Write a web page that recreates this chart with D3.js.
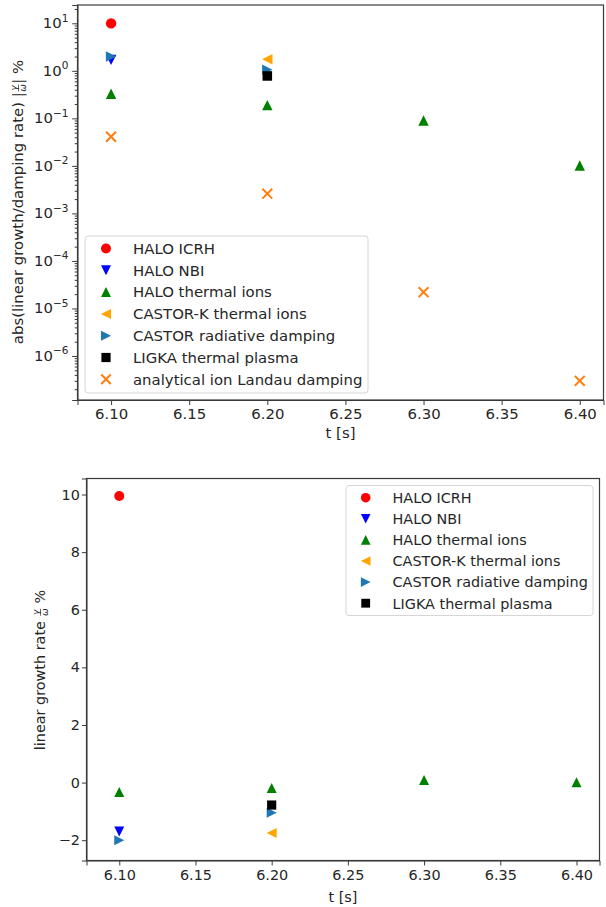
<!DOCTYPE html>
<html><head><meta charset="utf-8">
<script src="https://cdn.jsdelivr.net/npm/d3@7"></script>
<style>
body{margin:0;background:#fff;}
svg{display:block;font-family:"DejaVu Sans",sans-serif;}
</style></head><body>
<svg id="c" width="606" height="907"></svg>
<script>
// ---------------- data ----------------
const xTicks = [6.10, 6.15, 6.20, 6.25, 6.30, 6.35, 6.40];
const xTickLabels = ["6.10", "6.15", "6.20", "6.25", "6.30", "6.35", "6.40"];
const logTickExps = [1, 0, -1, -2, -3, -4, -5, -6];
const linTicks = [10, 8, 6, 4, 2, 0, -2];
const linTickLabels = ["10", "8", "6", "4", "2", "0", "\u22122"];

const seriesNames = ["HALO ICRH", "HALO NBI", "HALO thermal ions", "CASTOR-K thermal ions",
  "CASTOR radiative damping", "LIGKA thermal plasma", "analytical ion Landau damping"];
const haloIcrhT = [6.1],            haloIcrhV = [9.95];
const haloNbiT = [6.1],             haloNbiV = [-1.7];
const haloThermT = [6.1, 6.2, 6.3, 6.4], haloThermV = [-0.33, -0.19, 0.09, 0.0102];
const castorKT = [6.2],             castorKV = [-1.75];
const castorRadT = [6.1, 6.2],      castorRadV = [-2.0, -1.05];
const ligkaT = [6.2],               ligkaV = [-0.78];
const analyticT = [6.1, 6.2, 6.3, 6.4], analyticV = [0.041, 0.0026, 2.2e-5, 3.0e-7];

// ---------------- styling ----------------
const series = [
  {name: seriesNames[0], t: haloIcrhT, v: haloIcrhV, shape: "circle", color: "#ff0000"},
  {name: seriesNames[1], t: haloNbiT, v: haloNbiV, shape: "tdown", color: "#0000ff"},
  {name: seriesNames[2], t: haloThermT, v: haloThermV, shape: "tup", color: "#008000"},
  {name: seriesNames[3], t: castorKT, v: castorKV, shape: "tleft", color: "#ffa500"},
  {name: seriesNames[4], t: castorRadT, v: castorRadV, shape: "tright", color: "#1f77b4"},
  {name: seriesNames[5], t: ligkaT, v: ligkaV, shape: "square", color: "#000000"},
  {name: seriesNames[6], t: analyticT, v: analyticV, shape: "x", color: "#ff7f0e", topOnly: true}
];

function shapePath(s, r) {
  const p = d3.path();
  switch (s) {
    case "circle": p.arc(0, 0, r, 0, 2 * Math.PI); break;
    case "square": { const h = r * 0.92; p.rect(-h, -h, 2 * h, 2 * h); break; }
    case "tup": p.moveTo(0, -r); p.lineTo(-r, r); p.lineTo(r, r); p.closePath(); break;
    case "tdown": p.moveTo(0, r); p.lineTo(-r, -r); p.lineTo(r, -r); p.closePath(); break;
    case "tleft": p.moveTo(-r, 0); p.lineTo(r, -r); p.lineTo(r, r); p.closePath(); break;
    case "tright": p.moveTo(r, 0); p.lineTo(-r, -r); p.lineTo(-r, r); p.closePath(); break;
    case "x": { const h = r * 0.95; p.moveTo(-h, -h); p.lineTo(h, h); p.moveTo(-h, h); p.lineTo(h, -h); break; }
  }
  return p.toString();
}
function drawMarker(g, s, color, r) {
  const el = g.append("path").attr("d", shapePath(s, r));
  if (s === "x") el.attr("fill", "none").attr("stroke", color).attr("stroke-width", 2);
  else el.attr("fill", color);
  return el;
}

const svg = d3.select("#c");
const FS_TOP = 14.9, FS_BOT = 14.4;
const TXT = "#262626";
const SPINE = "#3a3a3a";

function styleAxis(g, fs) {
  g.selectAll(".tick text").attr("font-size", fs).attr("fill", TXT).attr("font-family", "DejaVu Sans");
  g.selectAll(".tick line").attr("stroke", SPINE);
  g.selectAll(".domain").attr("stroke", SPINE);
}

// ---------------- top plot (log) ----------------
const pTop = {l: 77.5, r: 603.5, t: 5, b: 400};
const xTop = d3.scaleLinear().domain([6.0785, 6.4152]).range([pTop.l, pTop.r]);
const yTop = d3.scaleLog().domain([Math.pow(10, -6.926), Math.pow(10, 1.385)]).range([pTop.b, pTop.t]);

const gTop = svg.append("g");

series.forEach(s => {
  s.t.forEach((t, i) => {
    const v = Math.abs(s.v[i]);
    const g = gTop.append("g").attr("transform", `translate(${xTop(t)},${yTop(v)})`);
    drawMarker(g, s.shape, s.color, 5.2);
  });
});

gTop.append("g").attr("transform", `translate(0,${pTop.b})`)
  .call(d3.axisBottom(xTop).tickValues(xTicks).tickFormat((d, i) => xTickLabels[i]).tickSize(5).tickPadding(3.5))
  .call(g => styleAxis(g, FS_TOP));
gTop.append("g").attr("transform", `translate(${pTop.l},0)`)
  .call(d3.axisLeft(yTop).tickValues(logTickExps.map(e => Math.pow(10, e))).tickFormat("").tickSize(5.3))
  .call(g => styleAxis(g, FS_TOP));
const minors = [];
for (let e = -7; e <= 1; e++) for (let m = 2; m <= 9; m++) {
  const v = m * Math.pow(10, e);
  if (v > yTop.domain()[0] && v < yTop.domain()[1]) minors.push(v);
}
gTop.append("g").attr("transform", `translate(${pTop.l},0)`)
  .call(d3.axisLeft(yTop).tickValues(minors).tickFormat("").tickSize(2.8))
  .call(g => g.select(".domain").remove())
  .call(g => styleAxis(g, FS_TOP));
logTickExps.forEach(e => {
  const t = gTop.append("text").attr("x", pTop.l - 9).attr("y", yTop(Math.pow(10, e)) + 5)
    .attr("text-anchor", "end").attr("fill", TXT).attr("font-size", FS_TOP);
  t.append("tspan").text("10");
  t.append("tspan").attr("dy", -6.5).attr("font-size", 10.5).text(e < 0 ? "\u2212" + (-e) : String(e));
});
gTop.append("rect").attr("x", pTop.l).attr("y", pTop.t).attr("width", pTop.r - pTop.l).attr("height", pTop.b - pTop.t)
  .attr("fill", "none").attr("stroke", SPINE).attr("stroke-width", 1.2);
gTop.append("text").attr("x", (pTop.l + pTop.r) / 2).attr("y", 437.5).attr("text-anchor", "middle")
  .attr("font-size", FS_TOP).attr("fill", TXT).text("t [s]");

// ---------------- bottom plot (linear) ----------------
const pBot = {l: 86.5, r: 599.5, t: 478.5, b: 860.5};
const xBot = d3.scaleLinear().domain([6.0785, 6.4151]).range([pBot.l, pBot.r]);
const yBot = d3.scaleLinear().domain([-2.705, 10.556]).range([pBot.b, pBot.t]);
const gBot = svg.append("g");

series.filter(s => !s.topOnly).forEach(s => {
  s.t.forEach((t, i) => {
    const g = gBot.append("g").attr("transform", `translate(${xBot(t)},${yBot(s.v[i])})`);
    drawMarker(g, s.shape, s.color, 5.0);
  });
});
gBot.append("g").attr("transform", `translate(0,${pBot.b})`)
  .call(d3.axisBottom(xBot).tickValues(xTicks).tickFormat((d, i) => xTickLabels[i]).tickSize(5).tickPadding(4.5))
  .call(g => styleAxis(g, FS_BOT));
gBot.append("g").attr("transform", `translate(${pBot.l},0)`)
  .call(d3.axisLeft(yBot).tickValues(linTicks).tickFormat((d, i) => linTickLabels[i]).tickSize(4.6).tickPadding(2))
  .call(g => styleAxis(g, FS_BOT));
gBot.append("rect").attr("x", pBot.l).attr("y", pBot.t).attr("width", pBot.r - pBot.l).attr("height", pBot.b - pBot.t)
  .attr("fill", "none").attr("stroke", SPINE).attr("stroke-width", 1.2);
gBot.append("text").attr("x", (pBot.l + pBot.r) / 2).attr("y", 902).attr("text-anchor", "middle")
  .attr("font-size", FS_BOT).attr("fill", TXT).text("t [s]");

// ---------------- legends ----------------
function legend(x0, y0, w, h, rowY0, dy, list, markerX, textX, fs, r) {
  const g = svg.append("g");
  g.append("rect").attr("x", x0).attr("y", y0).attr("width", w).attr("height", h)
    .attr("rx", 3).attr("fill", "#fff").attr("fill-opacity", 0.8).attr("stroke", "#d6d6d6");
  list.forEach((s, i) => {
    const y = rowY0 + i * dy;
    const m = g.append("g").attr("transform", `translate(${markerX},${y})`);
    drawMarker(m, s.shape, s.color, r);
    g.append("text").attr("x", textX).attr("y", y + 5.3).attr("font-size", fs).attr("fill", TXT).text(s.name);
  });
}
legend(85, 236, 283, 157, 248.5, 21.8, series, 106, 133, FS_TOP, 5.0);
legend(346, 485.5, 247, 130, 497.7, 21.1, series.filter(s => !s.topOnly), 365.7, 392.5, FS_BOT, 4.8);

// ---------------- y labels with fraction ----------------
function yLabel(cx, cy, before, after, fs) {
  const g = svg.append("g").attr("transform", `translate(${cx},${cy}) rotate(-90)`);
  const t1 = g.append("text").attr("font-size", fs).attr("fill", TXT).text(before);
  const w1 = t1.node().getComputedTextLength();
  const fracW = 8.5;
  const t2 = g.append("text").attr("font-size", fs).attr("fill", TXT).text(after);
  const w2 = t2.node().getComputedTextLength();
  const total = w1 + fracW + w2;
  const x0 = -total / 2;
  t1.attr("x", x0).attr("y", 5);
  const fx = x0 + w1 + fracW / 2;
  g.append("text").attr("x", fx).attr("y", -1.5).attr("text-anchor", "middle").attr("font-size", 9)
    .attr("fill", TXT).attr("font-style", "italic").text("\u03b3");
  g.append("line").attr("x1", fx - 3.4).attr("x2", fx + 3.4).attr("y1", 0.5).attr("y2", 0.5)
    .attr("stroke", TXT).attr("stroke-width", 0.7);
  g.append("text").attr("x", fx).attr("y", 8.3).attr("text-anchor", "middle").attr("font-size", 9)
    .attr("fill", TXT).attr("font-style", "italic").text("\u03c9");
  t2.attr("x", x0 + w1 + fracW).attr("y", 5);
}
yLabel(18, 202, "abs(linear growth/damping rate) |", "|\u00a0%", FS_TOP);
yLabel(40, 670, "linear growth rate\u00a0", "\u00a0%", FS_BOT);
</script>
</body></html>
